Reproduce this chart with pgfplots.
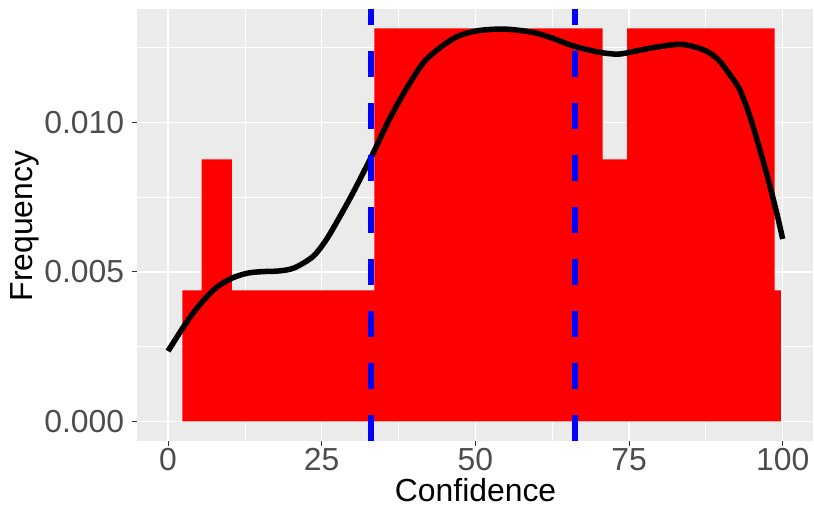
\documentclass[border=0pt]{standalone}
\usepackage{fontspec}
\setmainfont{Liberation Sans}
\usepackage{pgfplots}
\pgfplotsset{compat=1.18}
\definecolor{panelbg}{RGB}{235,235,235}
\definecolor{tickcol}{RGB}{51,51,51}
\definecolor{ticklab}{RGB}{77,77,77}
\begin{document}
\begin{tikzpicture}
\begin{axis}[
  name=ax,
  scale only axis,
  width=676bp, height=432bp,
  xmin=-5, xmax=105,
  ymin=-0.000657, ymax=0.01379,
  axis background/.style={fill=panelbg},
  axis line style={draw=none},
  xtick={0,25,50,75,100},
  ytick={0,0.005,0.010},
  minor xtick={12.5,37.5,62.5,87.5},
  minor ytick={0.0025,0.0075,0.0125},
  grid=both,
  major grid style={white, line width=1.5bp},
  minor grid style={white, line width=0.75bp},
  tick align=outside,
  major tick length=5bp,
  minor tick length=0pt,
  tick style={tickcol, line width=1bp},
  tick pos=left,
  scaled y ticks=false,
  /pgf/number format/assume math mode=true,
  y tick label style={/pgf/number format/fixed, /pgf/number format/fixed zerofill, /pgf/number format/precision=3},
  ticklabel style={font=\fontsize{32}{38}\selectfont, text=ticklab, inner sep=0pt},
  xticklabel style={anchor=base, yshift=-24bp},
  yticklabel style={anchor=east, xshift=-8bp},
  xlabel={Confidence}, ylabel={Frequency},
  label style={font=\fontsize{32}{38}\selectfont, text=black, inner sep=0pt},
  xlabel style={at={(axis description cs:0.5003,-0.1389)}, anchor=base},
  ylabel style={at={(axis description cs:-0.1543,0.4977)}, anchor=base},
  clip=true,
]
% histogram (density)
\addplot[fill=red, draw=none, const plot mark left] coordinates {
 (2.35,0.00438) (5.45,0.00876) (10.4,0.00438) (33.55,0.01314)
 (70.7,0.00876) (74.7,0.01314) (98.7,0.00438) (99.7,0.00438)} \closedcycle;
% density curve
\addplot[black, line width=5.5bp, smooth, tension=0.5] coordinates {
 (0,0.00235) (2,0.0030) (4,0.0036) (6,0.0041) (8,0.00450) (10.5,0.00480)
 (13,0.00496) (15.5,0.00501) (18,0.00503) (20.5,0.00513) (23.5,0.0055)
 (25.5,0.0060) (27.3,0.00661) (30,0.00761) (33.2,0.0089) (36,0.0101)
 (39,0.0112) (42,0.0121) (46.4,0.0128) (50,0.01305) (54,0.01312) (57,0.01308)
 (60,0.01298) (63,0.01278) (66,0.01255) (70,0.01235) (73.2,0.01228)
 (76,0.01238) (79,0.0125) (83.5,0.01261) (87.3,0.01241) (89.5,0.0121)
 (91.2,0.01165) (93,0.0111) (94.5,0.0103) (96,0.0093) (97.5,0.0082)
 (99,0.0070) (100,0.0061)};
% quantile lines
\addplot[blue, line width=6.5bp, dash pattern=on 26bp off 26bp] coordinates {(33.04,-0.000657) (33.04,0.01379)};
\addplot[blue, line width=6.5bp, dash pattern=on 26bp off 26bp] coordinates {(66.18,-0.000657) (66.18,0.01379)};
\end{axis}
\pgfresetboundingbox
\path ([xshift=-137.3bp,yshift=-67bp]ax.south west) rectangle ([xshift=0.6bp,yshift=9bp]ax.north east);
\end{tikzpicture}
\end{document}
